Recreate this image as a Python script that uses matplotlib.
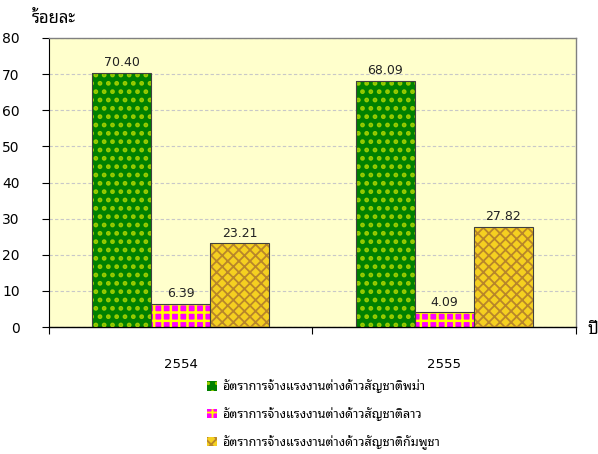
import numpy as np
import matplotlib
matplotlib.use("Agg")
import matplotlib.pyplot as plt
from matplotlib.patches import Patch

thai = ['Noto Sans Thai Looped', 'DejaVu Sans']
plt.rcParams['font.family'] = ['DejaVu Sans', 'Noto Sans Thai Looped']

years = ['2554', '2555']
series_names = [
    'อัตราการจ้างแรงงานต่างด้าวสัญชาติพม่า',
    'อัตราการจ้างแรงงานต่างด้าวสัญชาติลาว',
    'อัตราการจ้างแรงงานต่างด้าวสัญชาติกัมพูชา',
]
burmese = [70.40, 68.09]
lao = [6.39, 4.09]
cambodian = [23.21, 27.82]

# face colour, pattern colour, hatch, hatch line width
styles = [
    ('#008000', '#99CC00', '..', 2.2),
    ('#FF00FF', '#FFFF00', '++', 1.8),
    ('#F5D020', '#B8862A', 'xxx', 1.3),
]

fig = plt.figure(figsize=(5.98, 4.54), dpi=100)
ax = fig.add_axes([0.0819, 0.2797, 0.8813, 0.6366])
ax.set_facecolor('#FFFFCC')

x = np.arange(len(years))
w = 0.2235
handles = []
for i, vals in enumerate([burmese, lao, cambodian]):
    face, pat, hatch, hlw = styles[i]
    plt.rcParams['hatch.linewidth'] = hlw
    pos = x + (i - 1) * w
    ax.bar(pos, vals, w, color=face, edgecolor='none', zorder=2)
    ax.bar(pos, vals, w, facecolor='none', edgecolor=pat, linewidth=0,
           hatch=hatch, zorder=3)
    ax.bar(pos, vals, w, facecolor='none', edgecolor='#404040',
           linewidth=0.8, zorder=4)
    handles.append(Patch(facecolor=face, edgecolor=pat, hatch=hatch,
                         linewidth=0))
    for p, v in zip(pos, vals):
        ax.text(p, v + 1.0, '%.2f' % v, ha='center', va='bottom',
                fontsize=9, color='#222222', zorder=5)

ax.set_xlim(-0.5, 1.5)
ax.set_ylim(0, 80)
ax.set_yticks(np.arange(0, 81, 10))
ax.yaxis.grid(True, color='#C8C8C8', linestyle=(0, (3, 2)), linewidth=0.8)
ax.set_axisbelow(True)

ax.set_xticks(x)
ax.set_xticklabels(years, fontsize=9.5)
ax.set_xticks([-0.5, 0.5, 1.5], minor=True)
ax.tick_params(axis='x', which='major', length=0, pad=22)
ax.tick_params(axis='x', which='minor', length=5, width=0.8, direction='out')
ax.tick_params(axis='y', length=5, width=0.8, direction='out', pad=16,
               labelsize=10)

for side in ['top', 'right']:
    ax.spines[side].set_color('#808080')
    ax.spines[side].set_linewidth(1.0)
ax.spines['left'].set_color('black')
ax.spines['left'].set_linewidth(0.8)
ax.spines['bottom'].set_color('black')
ax.spines['bottom'].set_linewidth(1.0)

fig.text(0.053, 0.958, 'ร้อยละ', fontsize=12, family=thai, weight='bold',
         ha='left', va='center')
fig.text(0.982, 0.273, 'ปี', fontsize=12, family=thai, weight='bold',
         ha='left', va='center')

fig.legend(handles, series_names, loc='upper left',
           bbox_to_anchor=(0.336, 0.178), frameon=False,
           prop={'family': thai, 'size': 9},
           handlelength=0.8, handleheight=0.8, handletextpad=0.4,
           labelspacing=1.1, borderpad=0)

fig.savefig('out.png')
